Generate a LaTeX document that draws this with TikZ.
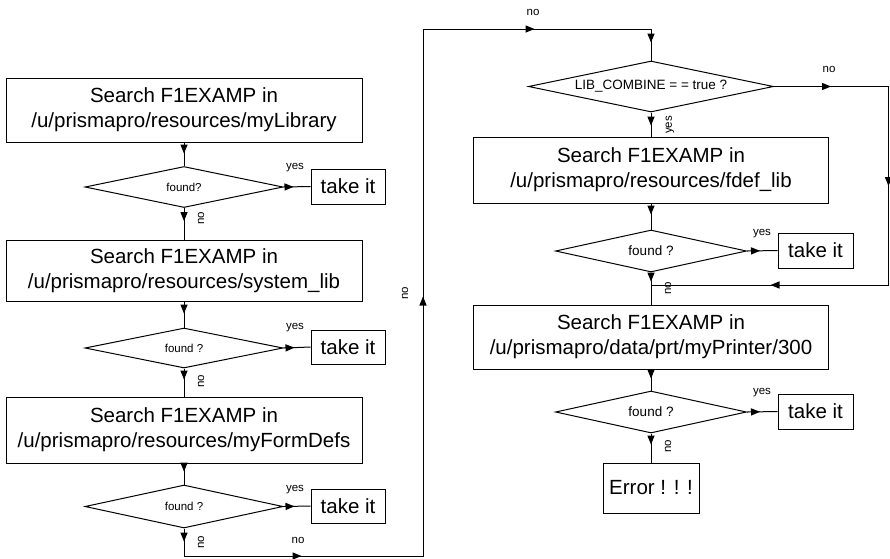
\documentclass[tikz,border=0pt]{standalone}
\usepackage{fontspec}
\setmainfont{Liberation Sans}
\usetikzlibrary{shapes.geometric,arrows.meta,decorations.markings}
\newcommand\myarr{\fill (0pt,0pt) -- (-9pt,3.7pt) -- (-9pt,-3.7pt) -- cycle;}
\begin{document}
\begin{tikzpicture}[x=1pt,y=-1pt,line width=1pt,
  box/.style={draw,rectangle,inner sep=0pt,align=center,font=\fontsize{20.5}{25}\selectfont},
  dec/.style={draw,diamond,inner sep=0pt,aspect=4.8,font=\fontsize{11.5}{14}\selectfont},
  rdec/.style={dec,font=\fontsize{13.5}{15}\selectfont},
  lbl/.style={font=\fontsize{11.5}{14}\selectfont,inner sep=0pt},
  vlbl/.style={lbl,rotate=90},
  conn/.style={postaction={decorate},decoration={markings,mark=at position #1 with {\myarr}}}]
\useasboundingbox (0,0) rectangle (890,558);
% left column
\node[box,minimum width=356pt,minimum height=64pt] (b1) at (184,110) {Search F1EXAMP in\\/u/prismapro/resources/myLibrary};
\node[dec,minimum width=198pt,minimum height=41pt] (d1) at (184,187) {found?};
\node[box,minimum width=74pt,minimum height=35pt] (t1) at (348,186.5) {take it};
\node[box,minimum width=356pt,minimum height=61pt] (b2) at (184,270.5) {Search F1EXAMP in\\/u/prismapro/resources/system\_lib};
\node[dec,minimum width=198pt,minimum height=40pt] (d2) at (184,348) {found ?};
\node[box,minimum width=74pt,minimum height=34pt] (t2) at (348,347) {take it};
\node[box,minimum width=356pt,minimum height=66pt] (b3) at (184,430) {Search F1EXAMP in\\/u/prismapro/resources/myFormDefs};
\node[dec,minimum width=198pt,minimum height=43pt] (d3) at (184,506.5) {found ?};
\node[box,minimum width=74pt,minimum height=34pt] (t3) at (348,506) {take it};
% right column
\node[rdec,minimum width=245pt,minimum height=51pt] (d4) at (651,86.5) {LIB\_COMBINE = = true ?};
\node[box,minimum width=355pt,minimum height=66pt] (b4) at (651,170) {Search F1EXAMP in\\/u/prismapro/resources/fdef\_lib};
\node[rdec,minimum width=191pt,minimum height=42pt] (d5) at (651,251) {found ?};
\node[box,minimum width=75pt,minimum height=35pt] (t5) at (815.5,250.5) {take it};
\node[box,minimum width=355pt,minimum height=64pt] (b6) at (651,337) {Search F1EXAMP in\\/u/prismapro/data/prt/myPrinter/300};
\node[rdec,minimum width=191pt,minimum height=42pt] (d6) at (651,412) {found ?};
\node[box,minimum width=75pt,minimum height=35pt] (t6) at (815.5,411.5) {take it};
\node[box,minimum width=96pt,minimum height=50pt] (err) at (651,488) {Error ! ! !};
% routing points
\coordinate (c1) at (184,556);
\coordinate (c2) at (423,556);
\coordinate (c3) at (423,29);
\coordinate (c4) at (651,29);
\coordinate (r1) at (888.5,86.5);
\coordinate (r2) at (888.5,285);
\coordinate (j) at (651,285);
% connectors left
\draw[conn=11pt] (b1.south) -- (d1.north);
\draw[conn=10pt] (d1.east) -- (t1.west);
\draw[conn=13pt] (d1.south) -- (b2.north);
\draw[conn=12pt] (b2.south) -- (d2.north);
\draw[conn=11pt] (d2.east) -- (t2.west);
\draw[conn=11pt] (d2.south) -- (b3.north);
\draw[conn=8pt] (b3.south) -- (d3.north);
\draw[conn=11pt] (d3.east) -- (t3.west);
\draw[postaction={decorate},decoration={markings,
   mark=at position 13pt with {\myarr},
   mark=at position 145pt with {\myarr},
   mark=at position 526pt with {\myarr},
   mark=at position 905pt with {\myarr},
   mark=at position 1035pt with {\myarr}}]
  (d3.south) -- (c1) -- (c2) -- (c3) -- (c4) -- (d4.north);
% connectors right
\draw[conn=13pt] (d4.south) -- (b4.north);
\draw[postaction={decorate},decoration={markings,
   mark=at position 57pt with {\myarr},
   mark=at position 214pt with {\myarr},
   mark=at position 431pt with {\myarr}}]
  (d4.east) -- (r1) -- (r2) -- (j);
\draw[conn=11pt] (b4.south) -- (d5.north);
\draw[conn=13pt] (d5.east) -- (t5.west);
\draw[conn=9pt] (d5.south) -- (b6.north);
\draw[conn=9pt] (b6.south) -- (d6.north);
\draw[conn=13pt] (d6.east) -- (t6.west);
\draw[conn=11pt] (d6.south) -- (err.north);
% labels
\node[lbl] (y1) at (295,168) {yes};
\node[lbl] (y2) at (295,328) {yes};
\node[lbl] (y3) at (295,490) {yes};
\node[lbl] (y5) at (762,234) {yes};
\node[lbl] (y6) at (762,393) {yes};
\node[vlbl] (y4) at (670,125) {yes};
\node[vlbl] (n1) at (201,218) {no};
\node[vlbl] (n2) at (201,381) {no};
\node[vlbl] (n3) at (201,542) {no};
\node[vlbl] (n4) at (405,293) {no};
\node[vlbl] (n5) at (668,288) {no};
\node[vlbl] (n6) at (668,446) {no};
\node[lbl] (n7) at (298,540) {no};
\node[lbl] (n8) at (533,12) {no};
\node[lbl] (n9) at (829,69) {no};
\end{tikzpicture}
\end{document}
